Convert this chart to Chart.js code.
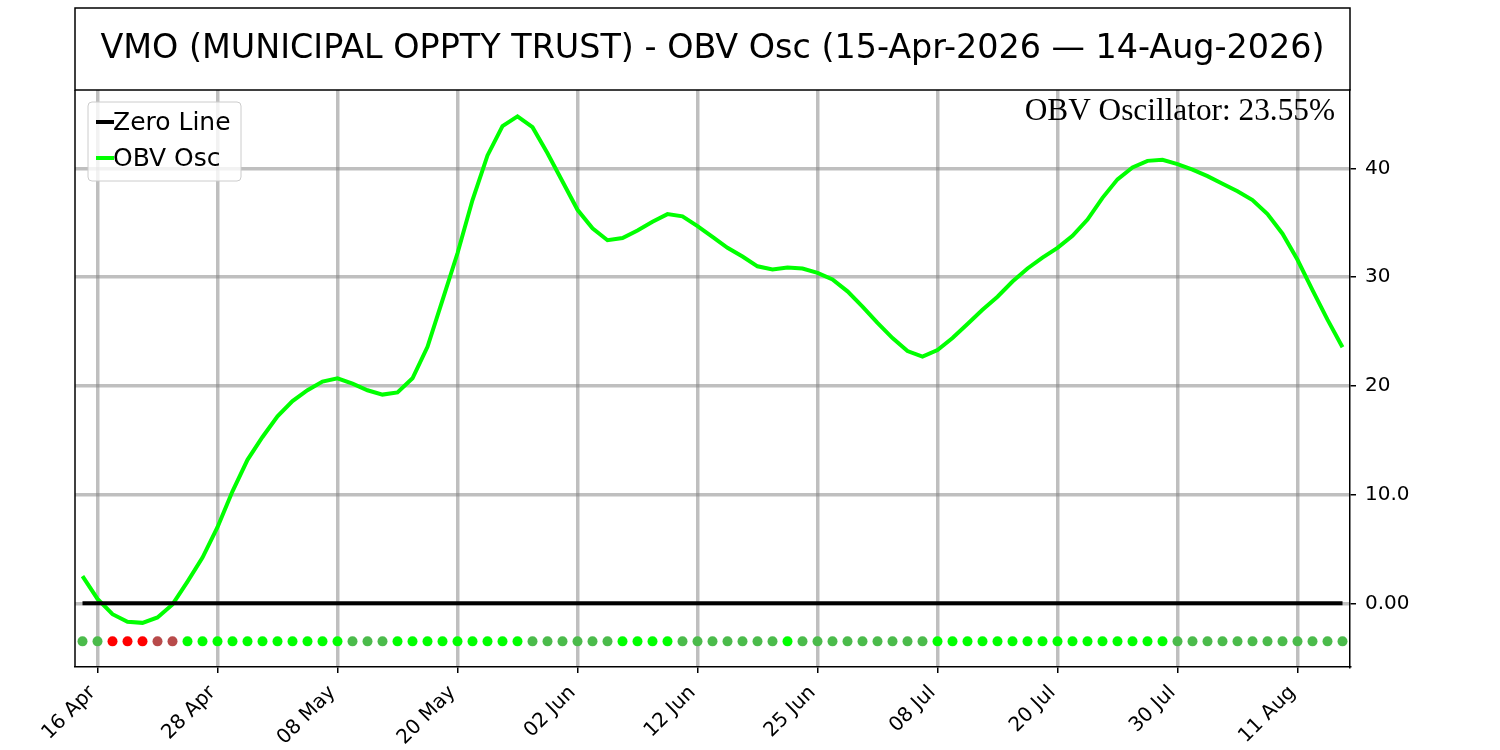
<!DOCTYPE html>
<html>
<head>
<meta charset="utf-8">
<title>VMO OBV Oscillator</title>
<script src="https://cdn.jsdelivr.net/npm/chart.js@4.4.1/dist/chart.umd.min.js"></script>
<style>
  html, body { margin: 0; padding: 0; background: #fff; }
  canvas { display: block; }
</style>
</head>
<body>
<canvas id="obvChart" width="1500" height="750"></canvas>
<script>
// Trading days, 15 Apr 2026 - 14 Aug 2026
const dates = [
  '15 Apr', '16 Apr', '17 Apr', '20 Apr', '21 Apr', '22 Apr', '23 Apr', '24 Apr', '27 Apr', '28 Apr', '29 Apr', '30 Apr',
  '01 May', '04 May', '05 May', '06 May', '07 May', '08 May', '11 May', '12 May', '13 May', '14 May', '15 May',
  '18 May', '19 May', '20 May', '21 May', '22 May', '26 May', '27 May', '28 May', '29 May',
  '01 Jun', '02 Jun', '03 Jun', '04 Jun', '05 Jun', '08 Jun', '09 Jun', '10 Jun', '11 Jun', '12 Jun',
  '15 Jun', '16 Jun', '17 Jun', '18 Jun', '22 Jun', '23 Jun', '24 Jun', '25 Jun', '26 Jun', '29 Jun', '30 Jun',
  '01 Jul', '02 Jul', '06 Jul', '07 Jul', '08 Jul', '09 Jul', '10 Jul', '13 Jul', '14 Jul', '15 Jul', '16 Jul', '17 Jul',
  '20 Jul', '21 Jul', '22 Jul', '23 Jul', '24 Jul', '27 Jul', '28 Jul', '29 Jul', '30 Jul', '31 Jul',
  '03 Aug', '04 Aug', '05 Aug', '06 Aug', '07 Aug', '10 Aug', '11 Aug', '12 Aug', '13 Aug', '14 Aug'
];

const xTickLabels = ['16 Apr', '28 Apr', '08 May', '20 May', '02 Jun', '12 Jun', '25 Jun', '08 Jul', '20 Jul', '30 Jul', '11 Aug'];

// OBV oscillator (%)
const obvValues = [
  2.5, 0.4, -1.0, -1.7, -1.8, -1.3, -0.1, 2.0, 4.2, 7.0, 10.3, 13.2,
  15.3, 17.2, 18.6, 19.6, 20.4, 20.7, 20.2, 19.6, 19.2, 19.4, 20.7,
  23.6, 27.9, 32.2, 37.1, 41.2, 43.9, 44.8, 43.8, 41.4,
  38.8, 36.2, 34.5, 33.4, 33.6, 34.3, 35.1, 35.8, 35.6, 34.7,
  33.7, 32.7, 31.9, 31.0, 30.7, 30.9, 30.8, 30.4, 29.8, 28.7, 27.3,
  25.8, 24.4, 23.2, 22.7, 23.3, 24.4, 25.7, 27.0, 28.2, 29.6, 30.8, 31.8,
  32.7, 33.8, 35.3, 37.3, 39.0, 40.1, 40.7, 40.8, 40.4, 39.9,
  39.3, 38.6, 37.9, 37.1, 35.8, 34.0, 31.6, 28.8, 26.1, 23.55
];

const yTickValues = [0, 10, 20, 30, 40];
const yTickLabels = ['0.00', '10.0', '20', '30', '40'];
const signalLevel = -3.5;

const titleText = 'VMO (MUNICIPAL OPPTY TRUST) - OBV Osc (15-Apr-2026 \u2014 14-Aug-2026)';
const lastReading = obvValues[obvValues.length - 1].toFixed(2) + '%';

// signal dots: above/below zero, rising/falling
function signalColor(i) {
  const v = obvValues[i];
  const rising = i > 0 && v > obvValues[i - 1];
  if (v < 0) return rising ? '#b84a4a' : '#ff0000';
  return rising ? '#00ff00' : '#4bbb4b';
}

const FONT = "'DejaVu Sans', sans-serif";

const decorations = {
  id: 'decorations',
  afterDraw(chart) {
    const { ctx, chartArea: a } = chart;
    ctx.save();

    // title box + left spine
    ctx.strokeStyle = '#000';
    ctx.lineWidth = 1.5;
    ctx.strokeRect(a.left, 8, a.right - a.left, a.top - 8);
    ctx.beginPath();
    ctx.moveTo(a.left, a.top);
    ctx.lineTo(a.left, a.bottom);
    ctx.stroke();

    ctx.fillStyle = '#000';
    ctx.font = '33.4px ' + FONT;
    ctx.textAlign = 'center';
    ctx.textBaseline = 'middle';
    ctx.fillText(titleText, (a.left + a.right) / 2, 49);

    // latest reading
    ctx.font = "31.3px 'Times New Roman', 'Liberation Serif', serif";
    ctx.textAlign = 'right';
    ctx.textBaseline = 'alphabetic';
    ctx.fillText('OBV Oscillator: ' + lastReading, a.right - 15, a.top + 30);

    // legend
    const items = chart.data.datasets.filter(d => d.inLegend);
    const bx = a.left + 13, by = a.top + 12, bw = 153, bh = 79;
    ctx.beginPath();
    ctx.roundRect(bx, by, bw, bh, 4);
    ctx.fillStyle = 'rgba(255,255,255,0.8)';
    ctx.fill();
    ctx.strokeStyle = '#cccccc';
    ctx.lineWidth = 1;
    ctx.stroke();

    ctx.font = '25px ' + FONT;
    ctx.textAlign = 'left';
    ctx.textBaseline = 'middle';
    items.forEach((d, k) => {
      const y = by + 20 + k * 36;
      ctx.strokeStyle = d.borderColor;
      ctx.lineWidth = 4;
      ctx.beginPath();
      ctx.moveTo(bx + 8, y);
      ctx.lineTo(bx + 26, y);
      ctx.stroke();
      ctx.fillStyle = '#000';
      ctx.fillText(d.label, bx + 25, y + 1);
    });

    ctx.restore();
  }
};

new Chart(document.getElementById('obvChart'), {
  type: 'line',
  data: {
    labels: dates,
    datasets: [
      {
        label: 'Zero Line',
        inLegend: true,
        data: dates.map(() => 0),
        borderColor: '#000000',
        borderWidth: 4,
        pointRadius: 0,
        tension: 0
      },
      {
        label: 'OBV Osc',
        inLegend: true,
        data: obvValues,
        borderColor: '#00ff00',
        borderWidth: 4,
        pointRadius: 0,
        tension: 0
      },
      {
        label: 'Signal',
        data: dates.map(() => signalLevel),
        showLine: false,
        pointRadius: 5,
        pointBorderWidth: 0,
        pointBackgroundColor: dates.map((_, i) => signalColor(i)),
        pointBorderColor: dates.map((_, i) => signalColor(i))
      }
    ]
  },
  options: {
    responsive: false,
    devicePixelRatio: 1,
    animation: false,
    layout: { padding: { left: 75, top: 90, right: 0, bottom: 0 } },
    plugins: {
      legend: { display: false },
      title: { display: false },
      tooltip: { enabled: false }
    },
    scales: {
      x: {
        type: 'category',
        offset: true,
        afterFit: (scale) => { scale.height = 83; },
        grid: {
          offset: false,
          color: 'rgba(128,128,128,0.5)',
          lineWidth: 3.5,
          tickColor: '#000',
          tickWidth: 1.5,
          tickLength: 6
        },
        border: { display: true, color: '#000', width: 1.5 },
        ticks: {
          autoSkip: false,
          maxRotation: 45,
          minRotation: 45,
          padding: 8,
          labelOffset: -5,
          color: '#000',
          font: { family: FONT, size: 20 },
          callback: function(value) {
            const lbl = this.getLabelForValue(value);
            return xTickLabels.includes(lbl) ? lbl : null;
          }
        }
      },
      y: {
        position: 'right',
        min: -5.86,
        max: 47.22,
        afterFit: (scale) => { scale.width = 150; },
        afterBuildTicks: (scale) => { scale.ticks = yTickValues.map(v => ({ value: v })); },
        grid: {
          color: 'rgba(128,128,128,0.5)',
          lineWidth: 3.5,
          tickColor: '#000',
          tickWidth: 1.5,
          tickLength: 6
        },
        border: { display: true, color: '#000', width: 1.5 },
        ticks: {
          padding: 9,
          color: '#000',
          font: { family: FONT, size: 20 },
          callback: (value) => yTickLabels[yTickValues.indexOf(value)]
        }
      }
    }
  },
  plugins: [decorations]
});
</script>
</body>
</html>
